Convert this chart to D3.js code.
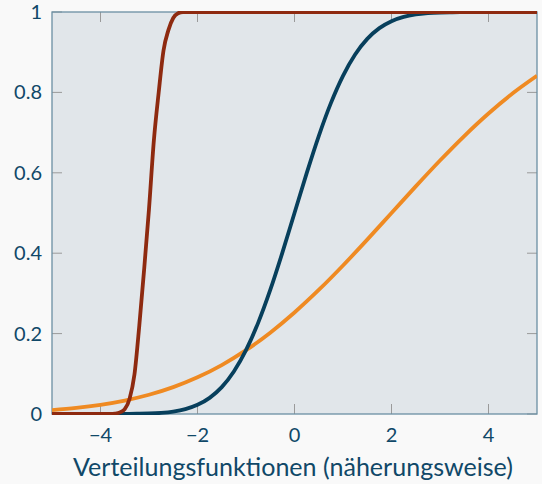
<!DOCTYPE html>
<html><head><meta charset="utf-8">
<script src="https://cdn.jsdelivr.net/npm/d3@7"></script>
<style>
html,body{margin:0;padding:0;background:#f9f9f9;}
svg{display:block;}
text{font-family:Lato,"Open Sans",sans-serif;fill:#104868;}
</style></head>
<body><svg id="c" width="542" height="484"></svg>
<script>
// Data
const xTicks = [-4, -2, 0, 2, 4];
const yTicks = [0, 0.2, 0.4, 0.6, 0.8, 1];
const yTickLabels = ["0", "0.2", "0.4", "0.6", "0.8", "1"];
const xTitle = "Verteilungsfunktionen (näherungsweise)";

// dark red curve
const redX = [-5, -3.8, -3.7, -3.6, -3.5, -3.4, -3.3, -3.2, -3.1, -3.0, -2.9, -2.8, -2.7, -2.6, -2.5, -2.4, -2.3, -2.2, 5];
const redY = [0, 0, 0.001, 0.004, 0.012, 0.038, 0.098, 0.22, 0.36, 0.51, 0.68, 0.80, 0.905, 0.955, 0.985, 0.997, 1, 1, 1];

// dark blue curve
const blueX = [-5, -4.5, -4, -3.75, -3.5, -3.25, -3, -2.75, -2.5, -2.25, -2, -1.75, -1.5, -1.25, -1, -0.75, -0.5, -0.25, 0,
  0.25, 0.5, 0.75, 1, 1.25, 1.5, 1.75, 2, 2.25, 2.5, 2.75, 3, 3.25, 3.5, 3.75, 4, 4.5, 5];
const blueY = [0, 0, 0, 0.0001, 0.0002, 0.0006, 0.0013, 0.003, 0.0062, 0.0122, 0.0228, 0.0401, 0.0668, 0.1056, 0.1587, 0.2266, 0.3085, 0.4013, 0.5,
  0.5987, 0.6915, 0.7734, 0.8413, 0.8944, 0.9332, 0.9599, 0.9772, 0.9878, 0.9938, 0.997, 0.9987, 0.9994, 0.9998, 0.9999, 1, 1, 1];

// orange curve
const orangeX = [-5, -4.5, -4, -3.5, -3, -2.5, -2, -1.5, -1, -0.5, 0, 0.5, 1, 1.5, 2, 2.5, 3, 3.5, 4, 4.5, 5];
const orangeY = [0.0098, 0.0151, 0.0228, 0.0334, 0.0478, 0.0668, 0.0912, 0.1217, 0.1587, 0.2023, 0.2525, 0.3085, 0.3694, 0.4338, 0.5,
  0.5662, 0.6306, 0.6915, 0.7475, 0.7977, 0.8413];

const seriesColors = {orange: "#ef8a22", blue: "#073f5c", red: "#8e2a10"};

const L = 52, R = 537, T = 12, B = 414;
const svg = d3.select("#c");
const x = d3.scaleLinear().domain([-5, 5]).range([L, R]);
const y = d3.scaleLinear().domain([0, 1]).range([B, T]);

svg.append("rect").attr("x", L).attr("y", T).attr("width", R - L).attr("height", B - T).attr("fill", "#e1e6ea");

// ticks on all four sides (inward)
const tk = 10, tickCol = "#9a9a9a";
const g = svg.append("g");
xTicks.forEach(v => {
  g.append("line").attr("x1", x(v)).attr("x2", x(v)).attr("y1", B).attr("y2", B - tk).attr("stroke", tickCol).attr("stroke-width", 1);
  g.append("line").attr("x1", x(v)).attr("x2", x(v)).attr("y1", T).attr("y2", T + tk).attr("stroke", tickCol).attr("stroke-width", 1);
});
yTicks.forEach(v => {
  g.append("line").attr("x1", L).attr("x2", L + tk).attr("y1", y(v)).attr("y2", y(v)).attr("stroke", tickCol).attr("stroke-width", 1);
  g.append("line").attr("x1", R).attr("x2", R - tk).attr("y1", y(v)).attr("y2", y(v)).attr("stroke", tickCol).attr("stroke-width", 1);
});

svg.append("rect").attr("x", L).attr("y", T).attr("width", R - L).attr("height", B - T)
  .attr("fill", "none").attr("stroke", "#6a8fa3").attr("stroke-width", 1.3);

svg.append("clipPath").attr("id", "clip").append("rect")
  .attr("x", L).attr("y", T - 1).attr("width", R - L).attr("height", B - T + 2);

const line = d3.line().x(d => x(d[0])).y(d => y(d[1])).curve(d3.curveMonotoneX);
const curves = [
  [orangeX, orangeY, seriesColors.orange],
  [blueX, blueY, seriesColors.blue],
  [redX, redY, seriesColors.red]
];
const cg = svg.append("g").attr("clip-path", "url(#clip)");
curves.forEach(([xs, ys, col]) => {
  cg.append("path").datum(xs.map((v, i) => [v, ys[i]]))
    .attr("d", line).attr("fill", "none").attr("stroke", col).attr("stroke-width", 3.8)
    .attr("stroke-linejoin", "round");
});

// tick labels
const fmt = d3.format("");
xTicks.forEach(v => {
  svg.append("text").attr("x", x(v)).attr("y", 442).attr("text-anchor", "middle")
    .attr("font-size", 20).text(fmt(v));
});
yTicks.forEach((v, i) => {
  svg.append("text").attr("x", 42).attr("y", y(v)).attr("dy", "0.35em").attr("text-anchor", "end")
    .attr("font-size", 20).text(yTickLabels[i]);
});

const title = svg.append("text").attr("x", 293).attr("y", 476).attr("text-anchor", "middle")
  .attr("font-size", 22).text(xTitle);
const w = title.node().getComputedTextLength();
title.attr("font-size", 22 * 440 / w);
</script></body></html>
